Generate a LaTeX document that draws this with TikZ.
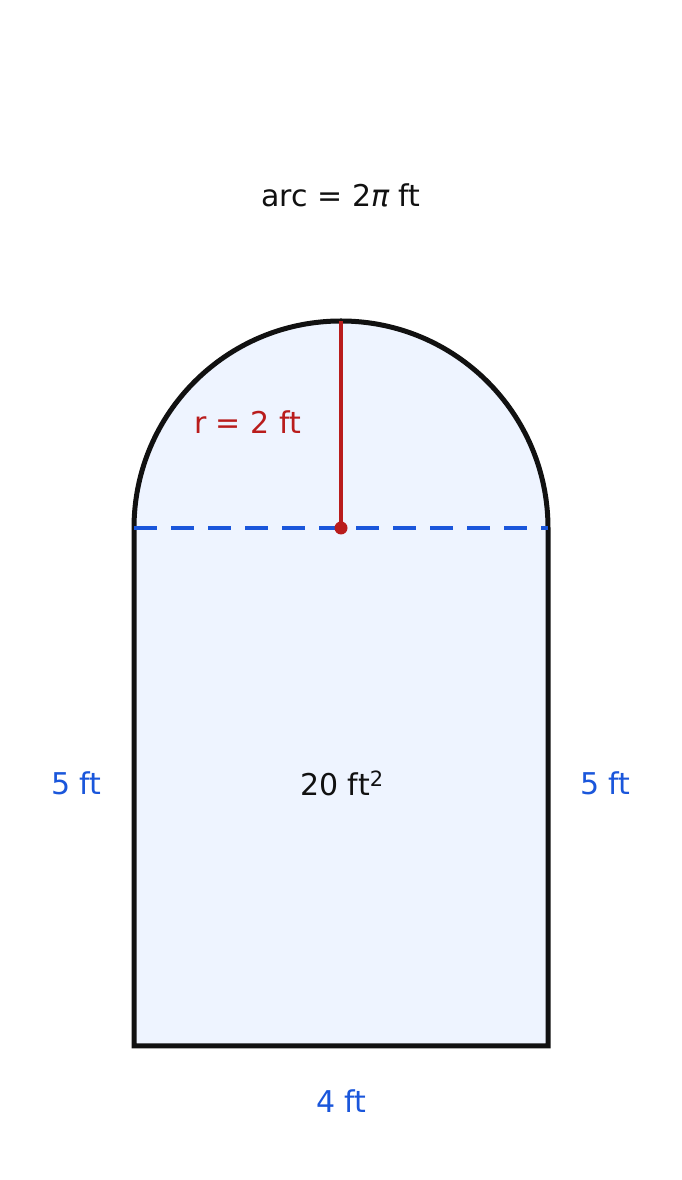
\documentclass[tikz,border=0pt]{standalone}
\usepackage{fontspec}
\setmainfont{DejaVu Sans}
\definecolor{fillc}{HTML}{EEF4FF}
\definecolor{bluec}{HTML}{1A56DB}
\definecolor{redc}{HTML}{B91C1C}
\definecolor{inkc}{HTML}{111111}
\begin{document}
\begin{tikzpicture}[x=1pt,y=1pt,
  lbl/.style={inner sep=0pt,anchor=base,font=\fontsize{30}{35}\selectfont},
  bluelbl/.style={lbl,text=bluec},
  outline/.style={draw=inkc,line width=5pt,fill=fillc,miter limit=10},
  diam/.style={draw=bluec,line width=4.5pt,dash pattern=on 23pt off 14pt},
  radius line/.style={draw=redc,line width=4pt}]
\useasboundingbox (0,0) rectangle (682,1180);
\draw[outline] (134,134) -- (134,652) arc (180:0:207) -- (548,134) -- cycle;
\coordinate (cen) at (341,652);
\coordinate (top) at (341,859);
\coordinate (dl) at (134,652);
\coordinate (dr) at (548,652);
\draw[diam] (dl) -- (dr);
\draw[radius line] (cen) -- (top);
\node[circle,fill=redc,inner sep=0pt,minimum size=13pt] (dot) at (cen) {};
\node[lbl,text=inkc] (arc) at (341,973) {arc = 2{\itshape π} ft};
\node[lbl,text=redc] (r) at (247.5,746) {r = 2 ft};
\node[bluelbl] (hl) at (76.5,385) {5 ft};
\node[bluelbl] (hr) at (605.5,385) {5 ft};
\node[lbl,text=inkc] (area) at (342,384) {20 ft\textsuperscript{2}};
\node[bluelbl] (w) at (341.5,67) {4 ft};
\end{tikzpicture}
\end{document}
